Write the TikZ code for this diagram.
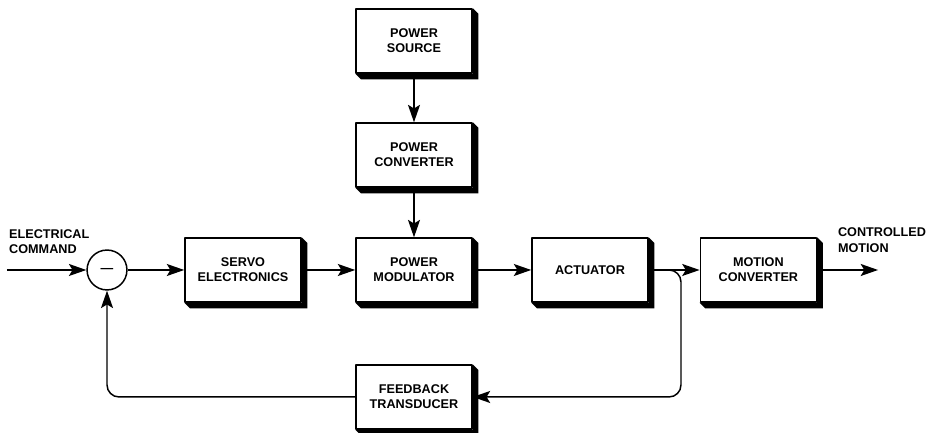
\documentclass[tikz,border=0pt]{standalone}
\usepackage{fontspec}
\setmainfont{Liberation Sans}
\usetikzlibrary{arrows.meta}

\tikzset{
  block/.style={draw, line width=1.4pt, fill=white, minimum width=3.87cm, minimum height=2.13cm, align=center},
  sumnode/.style={draw, circle, line width=1.4pt, minimum size=1.33cm, inner sep=0pt},
  line/.style={line width=1.4pt, -{Stealth[length=0.58cm, width=0.4cm, inset=0.12cm]}},
  label/.style={anchor=west, align=left, inner sep=0pt},
}

\begin{document}
\begin{tikzpicture}[font=\bfseries\fontsize{12}{14.5}\selectfont, line join=round]
	\useasboundingbox (0,0) rectangle (30.867,14.433);
	\node[block] (source) at (13.8,13.067) {POWER\\SOURCE};
	\node[block] (conv) at (13.8,9.267) {POWER\\CONVERTER};
	\node[block] (mod) at (13.8,5.433) {POWER\\MODULATOR};
	\node[block] (servo) at (8.1,5.433) {SERVO\\ELECTRONICS};
	\node[block] (act) at (19.667,5.433) {ACTUATOR};
	\node[block] (motion) at (25.28,5.433) {MOTION\\CONVERTER};
	\node[block] (fb) at (13.8,1.2) {FEEDBACK\\TRANSDUCER};
	\node[sumnode] (sum) at (3.567,5.433) {---};
	\coordinate (in) at (0.23,5.433);
	\coordinate (out) at (29.27,5.433);
	\coordinate (tap) at (22.7,5.433);
	\node[label] (cmd) at (0.3,6.37) {ELECTRICAL\\COMMAND};
	\node[label] (ctl) at (27.93,6.43) {CONTROLLED\\MOTION};
	% signal path
	\draw[line] (in) -- (sum.west);
	\draw[line] (sum.east) -- (servo.west);
	\draw[line] (servo.east) -- (mod.west);
	\draw[line] (mod.east) -- (act.west);
	\draw[line] (act.east) -- (motion.west);
	\draw[line] (motion.east) -- (out);
	\draw[line] (source.south) -- (conv.north);
	\draw[line] (conv.south) -- (mod.north);
	% feedback loop
	\draw[line, rounded corners=0.4cm] (act.east) -| (tap |- fb.east) -- (fb.east);
	\draw[line, rounded corners=0.4cm] (fb.west) -| (sum.south);
	% shadows
	\foreach \n in {source,conv,mod,servo,act,motion,fb}
		\fill (\n.north east) -- ++(0.19,-0.19) -- ([shift={(0.19,-0.19)}]\n.south east)
			-- ([shift={(0.19,-0.19)}]\n.south west) -- (\n.south west) -- (\n.south east) -- cycle;
\end{tikzpicture}
\end{document}
